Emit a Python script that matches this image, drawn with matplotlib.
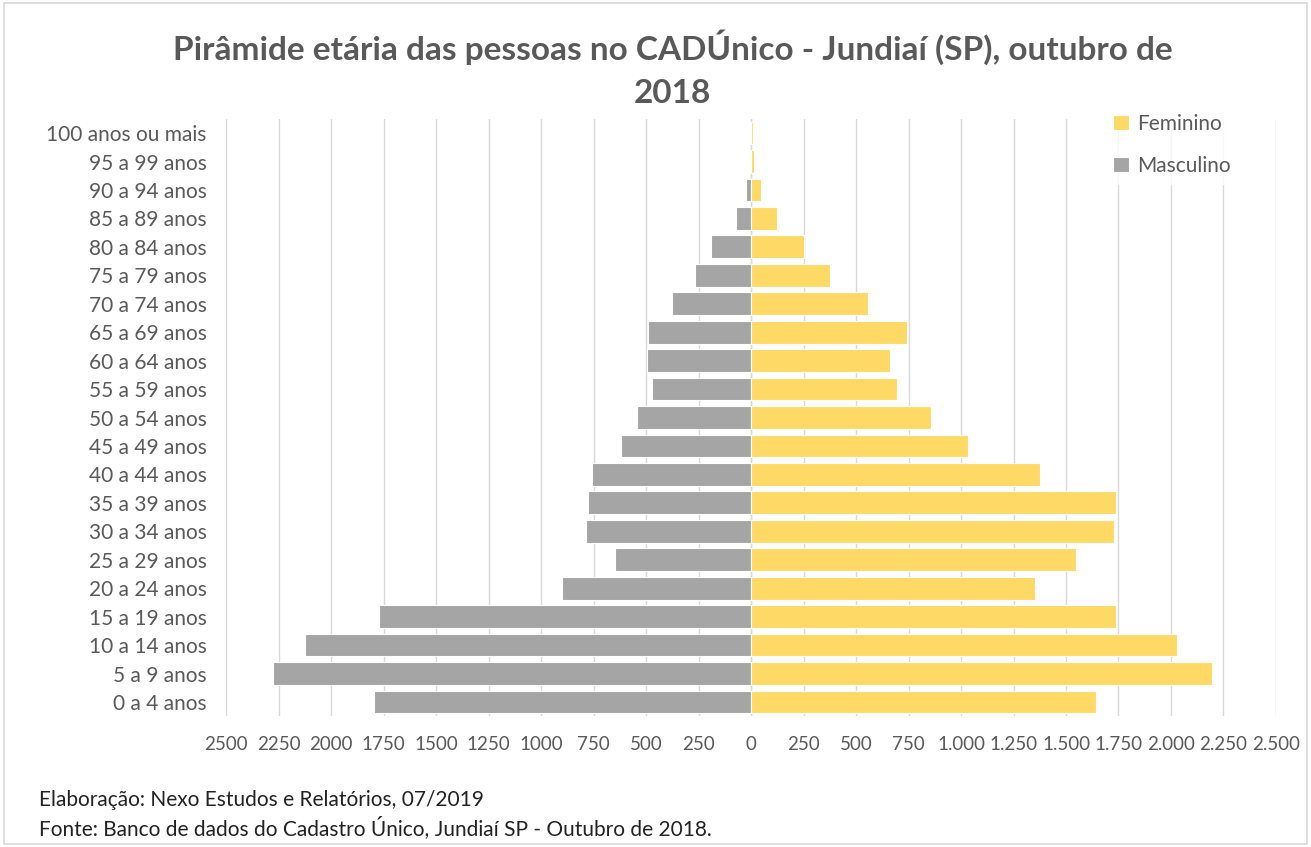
import matplotlib.pyplot as plt
from matplotlib.patches import Rectangle
from matplotlib.ticker import FixedLocator, FixedFormatter

plt.rcParams['font.family'] = ['Lato', 'DejaVu Sans']

# faixas etárias (de baixo para cima)
faixas = ['0 a 4 anos', '5 a 9 anos', '10 a 14 anos', '15 a 19 anos', '20 a 24 anos',
          '25 a 29 anos', '30 a 34 anos', '35 a 39 anos', '40 a 44 anos', '45 a 49 anos',
          '50 a 54 anos', '55 a 59 anos', '60 a 64 anos', '65 a 69 anos', '70 a 74 anos',
          '75 a 79 anos', '80 a 84 anos', '85 a 89 anos', '90 a 94 anos', '95 a 99 anos',
          '100 anos ou mais']
feminino = [1642, 2193, 2027, 1736, 1353, 1547, 1729, 1740, 1377, 1033,
            855, 697, 663, 741, 558, 376, 252, 124, 48, 13, 8]
masculino = [1794, 2275, 2123, 1771, 900, 647, 787, 776, 758, 619,
             543, 473, 496, 489, 377, 267, 190, 71, 25, 5, 3]

tick_vals = [-2500, -2250, -2000, -1750, -1500, -1250, -1000, -750, -500, -250,
             0, 250, 500, 750, 1000, 1250, 1500, 1750, 2000, 2250, 2500]
tick_txt = ['2500', '2250', '2000', '1750', '1500', '1250', '1000', '750', '500', '250',
            '0', '250', '500', '750', '1.000', '1.250', '1.500', '1.750', '2.000', '2.250', '2.500']

cinza_txt = '#595959'

fig = plt.figure(figsize=(13.11, 8.47), dpi=100)
ax = fig.add_axes([0.1724, 0.1544, 0.8009, 0.7053])

y = list(range(len(faixas)))
ax.barh(y, [-m for m in masculino], height=0.8, color='#A5A5A5',
        edgecolor='white', linewidth=0.8, label='Masculino', zorder=3)
ax.barh(y, feminino, height=0.8, color='#FFD966',
        edgecolor='white', linewidth=0.8, label='Feminino', zorder=3)

ax.set_xlim(-2500, 2500)
ax.set_ylim(-0.5, len(faixas) - 0.5)
ax.set_yticks(y)
ax.set_yticklabels(faixas)
ax.xaxis.set_major_locator(FixedLocator(tick_vals))
ax.xaxis.set_major_formatter(FixedFormatter(tick_txt))
ax.tick_params(axis='both', length=0, labelcolor=cinza_txt)
ax.tick_params(axis='x', pad=14, labelsize=13.5)
ax.tick_params(axis='y', pad=14, labelsize=15)

ax.grid(axis='x', color='#D9D9D9', linewidth=1, zorder=0)
ax.axvline(0, color='#D9D9D9', linewidth=1, zorder=2)
for s in ax.spines.values():
    s.set_visible(False)

handles, labels = ax.get_legend_handles_labels()
leg = ax.legend(handles[::-1], labels[::-1], loc='upper right',
                bbox_to_anchor=(0.975, 1.04), frameon=True, fontsize=15,
                handlelength=0.75, handleheight=0.75, labelspacing=1.05,
                handletextpad=0.4, borderpad=0.4)
leg.get_frame().set_facecolor('white')
leg.get_frame().set_edgecolor('white')
leg.set_zorder(5)
for t in leg.get_texts():
    t.set_color(cinza_txt)

fig.text(0.513, 0.919, 'Pirâmide etária das pessoas no CADÚnico - Jundiaí (SP), outubro de\n2018',
         ha='center', va='center', fontsize=24, fontweight='bold', color=cinza_txt,
         linespacing=1.6)

fig.text(0.03, 0.055, 'Elaboração: Nexo Estudos e Relatórios, 07/2019',
         ha='left', va='center', fontsize=15, color='#222222')
fig.text(0.03, 0.023, 'Fonte: Banco de dados do Cadastro Único, Jundiaí SP - Outubro de 2018.',
         ha='left', va='center', fontsize=15, color='#222222')

fig.patches.append(Rectangle((0.003, 0.003), 0.994, 0.994, transform=fig.transFigure,
                             fill=False, edgecolor='#D9D9D9', linewidth=1.2))

fig.savefig('out.png', dpi=100)
